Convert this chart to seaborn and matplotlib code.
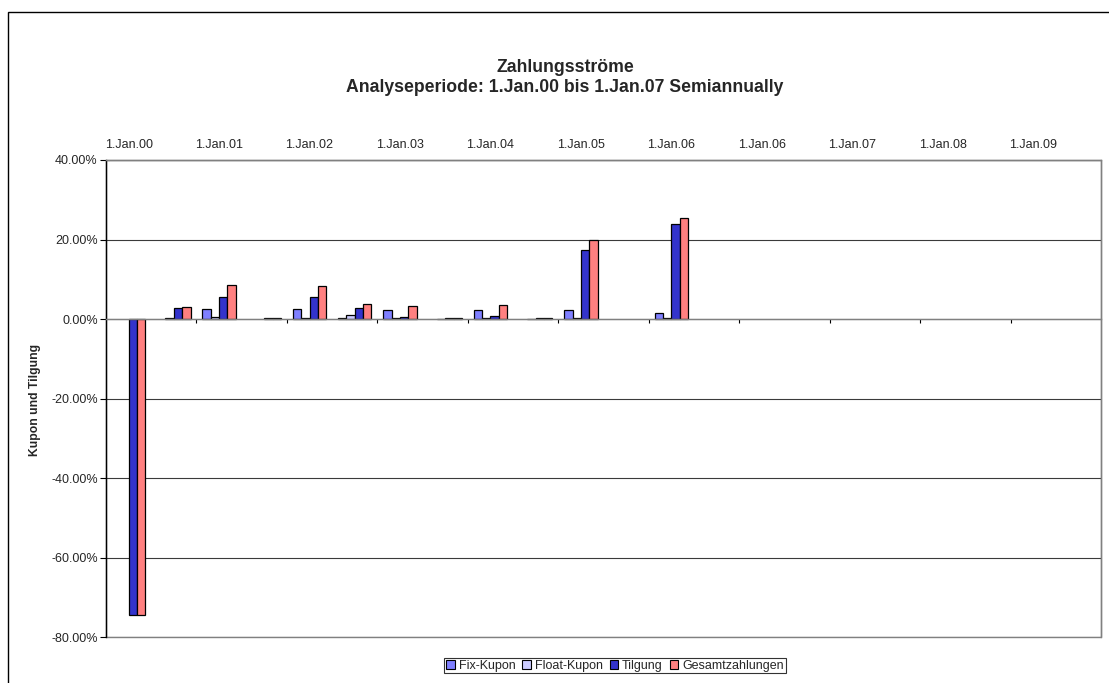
import numpy as np
import pandas as pd
import matplotlib
matplotlib.use("Agg")
import matplotlib.pyplot as plt
from matplotlib.patches import Rectangle
from matplotlib.ticker import FuncFormatter
import seaborn as sns

# Semiannual payment dates (category axis, 22 slots)
periods = [f"1.{m}.{y:02d}" for y in range(0, 11) for m in ("Jan", "Jul")]

# Cash flows in percent of notional per period
fix_kupon = [0.0, 0.0, 2.4, 0.0, 2.5, 0.2, 2.3, 0.0, 2.2, 0.0, 2.2, 0.0, 1.4,
             0.0, 0.0, 0.0, 0.0, 0.0, 0.0, 0.0, 0.0, 0.0]
float_kupon = [0.0, 0.2, 0.5, 0.0, 0.3, 1.0, 0.3, 0.1, 0.3, 0.1, 0.3, 0.0, 0.2,
               0.0, 0.0, 0.0, 0.0, 0.0, 0.0, 0.0, 0.0, 0.0]
tilgung = [-74.5, 2.75, 5.6, 0.2, 5.6, 2.7, 0.6, 0.2, 0.8, 0.2, 17.4, 0.0, 24.0,
           0.0, 0.0, 0.0, 0.0, 0.0, 0.0, 0.0, 0.0, 0.0]
gesamt = [-74.5, 2.9, 8.5, 0.3, 8.3, 3.8, 3.3, 0.2, 3.4, 0.2, 19.75, 0.0, 25.3,
          0.0, 0.0, 0.0, 0.0, 0.0, 0.0, 0.0, 0.0, 0.0]

series_names = ["Fix-Kupon", "Float-Kupon", "Tilgung", "Gesamtzahlungen"]
series_colors = ["#8080FF", "#CCCCFF", "#3333CC", "#FF8080"]

# Labels shown along the top of the plot (every second period)
top_labels = ["1.Jan.00", "1.Jan.01", "1.Jan.02", "1.Jan.03", "1.Jan.04",
              "1.Jan.05", "1.Jan.06", "1.Jan.06", "1.Jan.07", "1.Jan.08",
              "1.Jan.09"]

y_ticks = [40, 20, 0, -20, -40, -60, -80]

# Long-form table; empty (zero) cash flows are not drawn
rows = []
for name, vals in zip(series_names, [fix_kupon, float_kupon, tilgung, gesamt]):
    for p, v in zip(periods, vals):
        if v != 0:
            rows.append({"Periode": p, "Serie": name, "Wert": v})
df = pd.DataFrame(rows)

sns.set_theme(style="white")
plt.rcParams["font.family"] = ["Liberation Sans", "DejaVu Sans"]

W, H = 1109, 683
fig = plt.figure(figsize=(W / 100, H / 100), dpi=100)
left, right, top, bottom = 106, 1101, 160, 637
ax = fig.add_axes([left / W, 1 - bottom / H, (right - left) / W, (bottom - top) / H])

sns.barplot(data=df, x="Periode", y="Wert", hue="Serie", order=periods,
            hue_order=series_names, palette=series_colors, width=0.74, gap=0,
            errorbar=None, edgecolor="black", linewidth=0.9, saturation=1,
            ax=ax)

ax.set_xlim(-0.5, len(periods) - 0.5)
ax.set_ylim(-80, 40)
ax.set_xlabel("")
ax.set_ylabel("")

# Y axis: percent labels and horizontal gridlines
ax.set_yticks(y_ticks)
ax.yaxis.set_major_formatter(FuncFormatter(lambda v, _: f"{v:.2f}%"))
ax.yaxis.grid(True, color="#3a3a3a", linewidth=0.8)
ax.set_axisbelow(True)
ax.tick_params(axis="y", which="major", left=True, direction="out", length=4,
               width=0.8, color="black", pad=2, labelsize=9)

# X axis: labels on top, small boundary ticks on the zero line
ax.set_xticks(range(0, len(periods), 2))
ax.set_xticklabels(top_labels)
ax.set_xticks(np.arange(1.5, len(periods) - 1, 2), minor=True)
ax.tick_params(axis="x", which="major", bottom=False, top=False, length=0,
               labelbottom=False, labeltop=True, pad=6.5, labelsize=9)
ax.tick_params(axis="x", which="minor", bottom=True, top=False,
               direction="out", length=3, width=0.8, color="black")

ax.spines["bottom"].set_position(("data", 0))
ax.spines["bottom"].set_color("#808080")
ax.spines["bottom"].set_linewidth(1.0)
ax.spines["left"].set_color("black")
ax.spines["left"].set_linewidth(1.0)
for s in ("top", "right"):
    ax.spines[s].set_color("#808080")
    ax.spines[s].set_linewidth(1.0)

# Plot area frame along the bottom edge
ax.add_patch(Rectangle((0, 0), 1, 1, transform=ax.transAxes, fill=False,
                       edgecolor="#808080", linewidth=1.0, clip_on=False,
                       zorder=0.5))

# Legend below the plot
handles, labels = ax.get_legend_handles_labels()
for h in handles:
    h.set_edgecolor("black")
    h.set_linewidth(0.8)
ax.get_legend().remove()
leg = fig.legend(handles, labels, loc="center", ncol=4,
                 bbox_to_anchor=(615 / W, 1 - 665.5 / H),
                 bbox_transform=fig.transFigure, fontsize=9, frameon=True,
                 fancybox=False, shadow=False, handlelength=0.7,
                 handleheight=0.7, handletextpad=0.3, columnspacing=0.55,
                 borderpad=0.15, borderaxespad=0)
leg.get_frame().set_edgecolor("black")
leg.get_frame().set_linewidth(0.8)

# Titles and axis title
fig.text(565 / W, 1 - 68 / H, "Zahlungsströme", ha="center", va="center",
         fontsize=12.7, fontweight="bold")
fig.text(565 / W, 1 - 88 / H,
         "Analyseperiode: 1.Jan.00 bis 1.Jan.07 Semiannually",
         ha="center", va="center", fontsize=12.7, fontweight="bold")
fig.text(35 / W, 1 - 400 / H, "Kupon und Tilgung", ha="center", va="center",
         rotation=90, fontsize=8.7, fontweight="bold")

# Outer chart frame
fig.add_artist(Rectangle((8 / W, -0.1), 1.2, 1 - 12 / H + 0.1,
                         transform=fig.transFigure, fill=False,
                         edgecolor="black", linewidth=1.0))

fig.savefig("out.png", dpi=100, facecolor="white")
